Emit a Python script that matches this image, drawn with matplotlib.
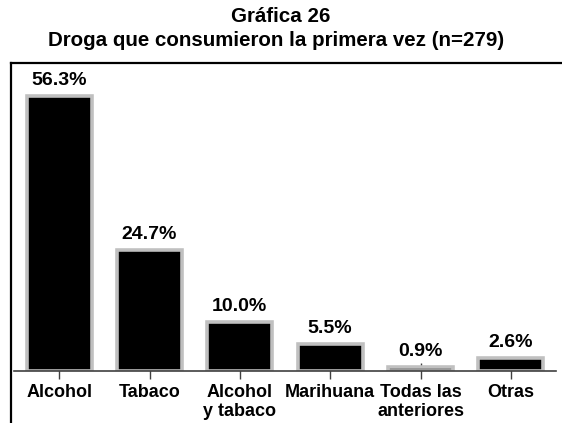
import matplotlib.pyplot as plt
from matplotlib.lines import Line2D

plt.rcParams['font.family'] = ['Liberation Sans', 'DejaVu Sans']

categories = ['Alcohol', 'Tabaco', 'Alcohol\ny tabaco', 'Marihuana', 'Todas las\nanteriores', 'Otras']
values = [56.3, 24.7, 10.0, 5.5, 0.9, 2.6]

W, H = 562, 423
fig = plt.figure(figsize=(W / 100, H / 100), dpi=100)

# axes placed in pixel terms
left, right, top, base = 14, 556, 63, 371
ax = fig.add_axes([left / W, (H - base) / H, (right - left) / W, (base - top) / H])

x = range(len(categories))
ax.bar(x, values, width=0.72, color='black', edgecolor='#c0c0c0', linewidth=2.6, zorder=2)

for i, v in enumerate(values):
    ax.annotate(f'{v:.1f}%', (i, v), xytext=(0, 5), textcoords='offset points',
                ha='center', va='bottom', fontsize=14, fontweight='bold')

ax.set_xlim(-0.5, len(categories) - 0.5)
ax.set_ylim(0, 63)
ax.set_xticks(list(x))
ax.set_xticklabels(categories, fontsize=13, fontweight='bold', linespacing=1.15)
ax.tick_params(axis='x', direction='inout', length=11, width=1, color='#404040', pad=4)
ax.set_yticks([])
for s in ['left', 'right', 'top']:
    ax.spines[s].set_visible(False)
ax.spines['bottom'].set_color('#404040')
ax.spines['bottom'].set_linewidth(1.2)
ax.patch.set_alpha(0)

# outer frame (top and left edges)
fig.add_artist(Line2D([11 / W, 1], [1 - 63 / H, 1 - 63 / H], color='black', lw=1.6))
fig.add_artist(Line2D([11 / W, 11 / W], [0, 1 - 63 / H], color='black', lw=1.6))

fig.text(281 / W, 1 - 17 / H, 'Gráfica 26', ha='center', va='center', fontsize=14.8, fontweight='bold')
fig.text(276 / W, 1 - 41 / H, 'Droga que consumieron la primera vez (n=279)', ha='center', va='center',
         fontsize=14.8, fontweight='bold')

fig.savefig('out.png', dpi=100)
